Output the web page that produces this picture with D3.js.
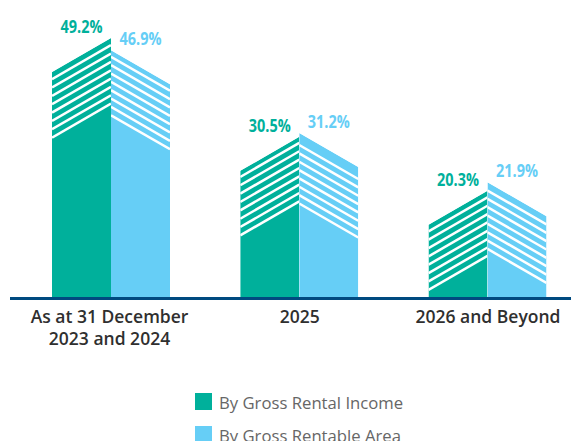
<!DOCTYPE html>
<html>

<head>
    <meta charset="utf-8">
    <title>Lease Expiry Profile</title>
    <script src="https://d3js.org/d3.v7.min.js"></script>
    <style>
        html, body {
            margin: 0;
            padding: 0;
            background: #ffffff;
            overflow: hidden;
        }
        svg {
            display: block;
            font-family: "Open Sans", sans-serif;
        }
    </style>
</head>

<body>
    <div id="chart"></div>
    <script>
        var categories = ["As at 31 December 2023 and 2024", "2025", "2026 and Beyond"];
        var tickLines = [["As at 31 December", "2023 and 2024"], ["2025"], ["2026 and Beyond"]];
        var seriesNames = ["By Gross Rental Income", "By Gross Rentable Area"];
        var incomeValues = [49.2, 30.5, 20.3];
        var areaValues = [46.9, 31.2, 21.9];
        // height of the solid part under the stripes
        var incomeSolid = [36.5, 18, 7.7];
        var areaSolid = [34.3, 17.6, 9];
        var colors = ["#00b09b", "#66cef6"];

        var width = 571, height = 441;
        var baseline = 298;
        var halfBar = 59;
        var drop = 34;
        var hatchStep = 8.35;

        var svg = d3.select("#chart")
            .append("svg")
            .attr("width", width)
            .attr("height", height);

        var x = d3.scalePoint()
            .domain(categories)
            .range([111, 487.5]);

        var y = d3.scaleLinear()
            .domain([0, 49.2])
            .range([baseline, 38]);

        var line = d3.line();

        function shape(cx, dir, value) {
            return line([
                [cx, y(value)],
                [cx + dir * halfBar, y(value) + drop],
                [cx + dir * halfBar, baseline],
                [cx, baseline]
            ]) + "Z";
        }

        function drawBar(name, i, dir, value, solid, color, id) {
            var cx = x(name);
            var clipId = "clip-" + id + "-" + i;

            svg.append("clipPath")
                .attr("id", clipId)
                .append("path")
                .attr("d", shape(cx, dir, value));

            var g = svg.append("g")
                .attr("clip-path", "url(#" + clipId + ")");

            g.append("path")
                .attr("d", shape(cx, dir, value))
                .attr("fill", color);

            // white stripes going up from the top of the solid part
            var top = y(solid) - 1.5;
            var rows = d3.range(top, y(value) + 4, -hatchStep);
            g.selectAll("line")
                .data(rows)
                .enter()
                .append("line")
                .attr("x1", cx)
                .attr("y1", function (d) { return d; })
                .attr("x2", cx + dir * halfBar)
                .attr("y2", function (d) { return d + drop; })
                .attr("stroke", "#ffffff")
                .attr("stroke-width", 2.5);

            svg.append("text")
                .attr("x", cx + dir * halfBar / 2)
                .attr("y", y(value) + drop / 2 - 22)
                .attr("text-anchor", "middle")
                .attr("font-size", 18)
                .attr("font-weight", 700)
                .attr("textLength", 42)
                .attr("lengthAdjust", "spacingAndGlyphs")
                .attr("fill", color)
                .text(value.toFixed(1) + "%");
        }

        categories.forEach(function (name, i) {
            drawBar(name, i, -1, incomeValues[i], incomeSolid[i], colors[0], "income");
            drawBar(name, i, 1, areaValues[i], areaSolid[i], colors[1], "area");
        });

        // axis
        var xAxis = svg.append("g")
            .attr("transform", "translate(0," + baseline + ")")
            .call(d3.axisBottom(x).tickSize(0).tickFormat(""));

        xAxis.select(".domain").remove();

        svg.append("line")
            .attr("x1", 10)
            .attr("x2", width)
            .attr("y1", baseline + 0.5)
            .attr("y2", baseline + 0.5)
            .attr("stroke", "#004a80")
            .attr("stroke-width", 3);

        xAxis.selectAll(".tick text")
            .attr("dy", 0)
            .attr("font-family", "\"Open Sans\", sans-serif")
            .attr("font-size", 17.5)
            .attr("font-weight", 600)
            .attr("fill", "#2f2f2f")
            .each(function (d, i) {
                var t = d3.select(this);
                tickLines[i].forEach(function (s, k) {
                    t.append("tspan")
                        .attr("x", i == 0 ? -2 : 0)
                        .attr("y", 24.5 + k * 22)
                        .text(s);
                });
            });

        // legend
        var legendY = d3.scalePoint()
            .domain(seriesNames)
            .range([393, 426]);

        var legend = svg.selectAll(".legend")
            .data(seriesNames)
            .enter()
            .append("g")
            .attr("class", "legend")
            .attr("transform", function (d) { return "translate(195," + legendY(d) + ")"; });

        legend.append("rect")
            .attr("width", 17)
            .attr("height", 17)
            .attr("fill", function (d, i) { return colors[i]; });

        legend.append("text")
            .attr("x", 24)
            .attr("y", 16)
            .attr("font-size", 16.7)
            .attr("fill", "#666666")
            .text(function (d) { return d; });
    </script>
</body>

</html>
